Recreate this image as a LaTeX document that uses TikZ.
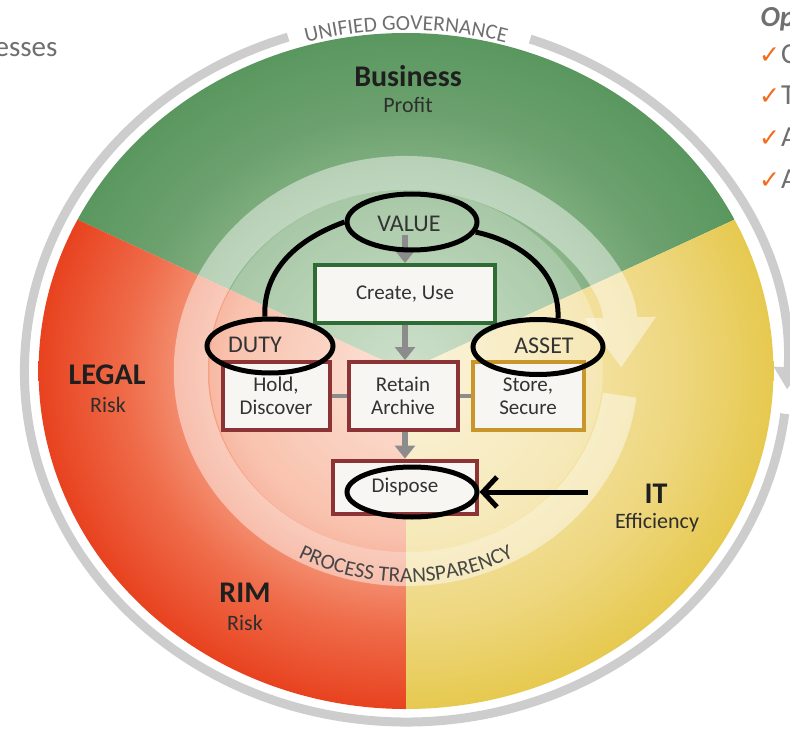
\documentclass[tikz,border=0pt]{standalone}
\usepackage{fontspec}
\setmainfont{Carlito}
\newfontfamily\tickfont{DejaVu Sans}
\usetikzlibrary{arrows.meta,shapes.geometric,decorations.text}

\definecolor{sagedark}{HTML}{5A975F}
\definecolor{sageouter}{HTML}{6CA16E}
\definecolor{sagemid}{HTML}{90B98E}
\definecolor{sagepale}{HTML}{BDD6B9}
\definecolor{riskdark}{HTML}{E8421F}
\definecolor{riskouter}{HTML}{EF6C4A}
\definecolor{riskmid}{HTML}{F7AE92}
\definecolor{riskpale}{HTML}{FCDACB}
\definecolor{costdark}{HTML}{E6C94F}
\definecolor{costouter}{HTML}{EDD67C}
\definecolor{costmid}{HTML}{F4E2A2}
\definecolor{costpale}{HTML}{FAF0CF}
\definecolor{ringgray}{HTML}{CDCDCD}
\definecolor{flowgray}{HTML}{8C8C8C}
\definecolor{slidegray}{HTML}{6F6F6F}
\definecolor{tickorange}{HTML}{F26A1B}
\definecolor{boxgreen}{HTML}{2F6B35}
\definecolor{boxred}{HTML}{8B3335}
\definecolor{boxgold}{HTML}{C9962C}
\definecolor{boxfill}{HTML}{F7F6F2}

% 25bp is the rim of the shaded disc
\pgfdeclareradialshading{sagewheel}{\pgfpointorigin}{color(0bp)=(sagepale); color(12bp)=(sagemid); color(19bp)=(sageouter); color(25bp)=(sagedark); color(50bp)=(sagedark)}
\pgfdeclareradialshading{riskwheel}{\pgfpointorigin}{color(0bp)=(riskpale); color(12bp)=(riskmid); color(19bp)=(riskouter); color(25bp)=(riskdark); color(50bp)=(riskdark)}
\pgfdeclareradialshading{costwheel}{\pgfpointorigin}{color(0bp)=(costpale); color(12bp)=(costmid); color(19bp)=(costouter); color(25bp)=(costdark); color(50bp)=(costdark)}

\newcommand\arcfont{\fontsize{21.5}{21.5}\selectfont}

\tikzset{
  stage/.style={draw, line width=4pt, fill=boxfill, align=center, inner sep=0pt,
    text=black!80, font=\fontsize{21}{23}\selectfont},
  hoop/.style={draw=black, ellipse, line width=5pt, inner sep=0pt},
  tag/.style={text=black!80, font=\fontsize{24}{24}\selectfont},
  flow/.style={draw=flowgray, line width=6pt, -{Triangle[length=13pt,width=20pt]}},
  link/.style={draw=flowgray, line width=4pt},
  tie/.style={draw=black, line width=5pt},
  realm/.style={anchor=base, text=black!88, font=\bfseries\fontsize{30}{30}\selectfont},
  measure/.style={anchor=base, text=black!82, font=\fontsize{22}{22}\selectfont},
  band/.style={white, line width=34pt, -{Triangle[length=50pt,width=68pt]}},
  outerring/.style={ringgray, line width=9pt},
  slide/.style={text=slidegray, font=\fontsize{29}{29}\selectfont}
}

\begin{document}
\begin{tikzpicture}[x=1pt,y=1pt]
  %%%%% START %%%%%
  \useasboundingbox (0,0) rectangle (790,-733);
  \fill[white] (0,0) rectangle (790,-733);

  % the wheel, stretched like the slide
  \begin{scope}[shift={(406,-371)}, xscale=1.087]
    \begin{scope}
      \clip (0,0) -- (26.6:338) arc[start angle=26.6, end angle=153.4, radius=338] -- cycle;
      \shade[shading=sagewheel] (0,0) circle[radius=338];
    \end{scope}
    \begin{scope}
      \clip (0,0) -- (153.4:338) arc[start angle=153.4, end angle=270, radius=338] -- cycle;
      \shade[shading=riskwheel] (0,0) circle[radius=338];
    \end{scope}
    \begin{scope}
      \clip (0,0) -- (270:338) arc[start angle=270, end angle=386.6, radius=338] -- cycle;
      \shade[shading=costwheel] (0,0) circle[radius=338];
    \end{scope}

    \fill[white, opacity=0.26] (0,0) circle[radius=181];
    \begin{scope}[transparency group, opacity=0.45]
      \draw[band] (-7:198) arc[start angle=-7, end angle=-359, radius=198];
    \end{scope}

    \draw[outerring, -{Triangle[length=22pt,width=28pt]}] (71:351) arc[start angle=71, end angle=-3, radius=351];
    \draw[outerring] (-7:351) arc[start angle=-7, end angle=-252, radius=351];

    \path[decorate, decoration={text along path, text align=center, text color=slidegray,
      text={|\arcfont|UNIFIED GOVERNANCE}}]
      (125:341) arc[start angle=125, end angle=55, radius=341];
    \path[decorate, decoration={text along path, text align=center, text color=black!72,
      text={|\arcfont|PROCESS TRANSPARENCY}}]
      (200:211) arc[start angle=200, end angle=340, radius=211];
  \end{scope}

  % slide text round the wheel
  \node[slide, anchor=base east] (esses) at (61,-57) {esses};
  \node[slide, anchor=base west, font=\bfseries\itshape\fontsize{29}{29}\selectfont] (op) at (757,-27) {Op};
  \foreach \ty/\lt [count=\i] in {64/C, 105/T, 147/A, 188/A} {
    \node[anchor=base west, inner sep=0pt, text=tickorange, font=\tickfont\fontsize{25}{25}\selectfont] (tick\i) at (759,-\ty) {✓};
    \node[slide, anchor=base west, inner sep=0pt] (item\i) at (781,-\ty) {\lt};
  }

  % sector names
  \node[realm] (business) at (408,-87) {Business};
  \node[measure] (profit) at (408,-113) {Profit};
  \node[realm] (legal) at (107,-384) {LEGAL};
  \node[measure] (legalrisk) at (108,-412) {Risk};
  \node[realm] (rim) at (245,-602) {RIM};
  \node[measure] (rimrisk) at (245,-630) {Risk};
  \node[realm] (it) at (656,-503) {IT};
  \node[measure] (efficiency) at (657,-528) {Efficiency};

  % lifecycle boxes
  \node[stage, draw=boxgreen, minimum width=180pt, minimum height=58pt] (create) at (405,-294) {Create, Use};
  \node[stage, draw=boxred, minimum width=107pt, minimum height=68pt] (hold) at (276,-396) {Hold,\\Discover};
  \node[stage, draw=boxred, minimum width=109pt, minimum height=68pt] (retain) at (403,-396) {Retain\\Archive};
  \node[stage, draw=boxgold, minimum width=111pt, minimum height=68pt] (store) at (528,-396) {Store,\\Secure};
  \node[stage, draw=boxred, minimum width=144pt, minimum height=53pt] (dispose) at (405,-487) {Dispose};

  \node[tag] (value) at (409,-224) {VALUE};
  \node[tag] (duty) at (255,-345) {DUTY};
  \node[tag] (asset) at (544,-346) {ASSET};

  \draw[flow] (value.south -| create.north) -- (create.north);
  \draw[flow] (create.south) -- (create.south |- retain.north);
  \draw[flow] (retain.south -| dispose.north) -- (dispose.north);
  \draw[link] (hold.east) -- (retain.west);
  \draw[link] (retain.east) -- (store.west);

  % hand drawn marks
  \node[hoop, minimum width=130pt, minimum height=56pt] (valuering) at (412,-222) {};
  \node[hoop, minimum width=126pt, minimum height=54pt] (dutyring) at (270,-346) {};
  \node[hoop, minimum width=130pt, minimum height=55pt] (assetring) at (538,-347) {};
  \node[hoop, minimum width=130pt, minimum height=50pt] (disposering) at (412,-492) {};

  \draw[tie] (valuering.west) to[out=200,in=92] (dutyring.100);
  \draw[tie] (valuering.-9) to[out=-12,in=88] (assetring.55);

  \coordinate (pointer) at (588,-492);
  \draw[tie, -{Straight Barb[length=14pt,width=30pt]}] (pointer) -- (disposering.east);
  %%%%% END %%%%%
\end{tikzpicture}
\end{document}
